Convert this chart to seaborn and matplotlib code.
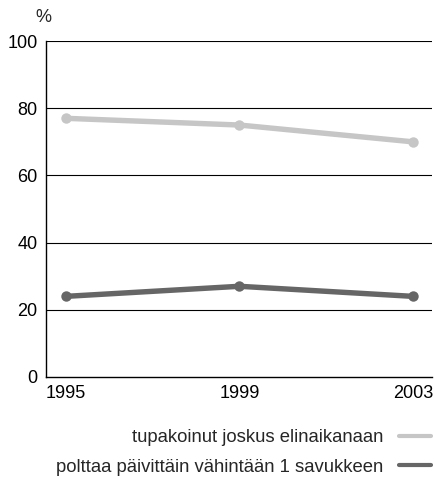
import matplotlib
matplotlib.use("Agg")
import matplotlib.pyplot as plt
import pandas as pd
import seaborn as sns

years = [1995, 1999, 2003]
ever_smoked = [77, 75, 70]
daily_smoker = [24, 27, 24]
series_labels = ["tupakoinut joskus elinaikanaan", "polttaa päivittäin vähintään 1 savukkeen"]
y_ticks = [0, 20, 40, 60, 80, 100]

df = pd.DataFrame({
    "year": years * 2,
    "value": ever_smoked + daily_smoker,
    "series": [series_labels[0]] * 3 + [series_labels[1]] * 3,
})

sns.set_theme(style="white")
plt.rcParams["font.family"] = ["Liberation Sans", "DejaVu Sans"]

fig = plt.figure(figsize=(4.35, 4.83), dpi=100)
ax = fig.add_axes([0.1057, 0.2195, 0.8873, 0.6955])

palette = {series_labels[0]: "#c6c6c6", series_labels[1]: "#666666"}
sns.lineplot(data=df, x="year", y="value", hue="series", palette=palette,
             marker="o", markersize=7.5, markeredgewidth=0, linewidth=3.9,
             legend=False, ax=ax)

ax.set_xlim(1994.54, 2003.44)
ax.set_ylim(0, 100)
ax.set_xticks(years)
ax.set_yticks(y_ticks)
ax.tick_params(axis="y", length=0, labelsize=13, colors="black", pad=6)
ax.tick_params(axis="x", length=0, labelsize=13, colors="black", pad=6)
ax.set_xlabel("")
ax.set_ylabel("")
for y in y_ticks[1:]:
    ax.axhline(y, color="black", linewidth=0.8, zorder=0)
ax.spines["top"].set_visible(False)
ax.spines["right"].set_visible(False)
ax.spines["left"].set_color("black")
ax.spines["bottom"].set_color("black")
ax.spines["left"].set_linewidth(1.0)
ax.spines["bottom"].set_linewidth(1.0)

fig.text(43 / 435, 1 - 17 / 483, "%", fontsize=13, ha="center", va="center")

handles = [plt.Line2D([], [], color=palette[s], linewidth=3.0) for s in series_labels]
fig.legend(handles, series_labels, loc="upper right",
           bbox_to_anchor=(431 / 435, 1 - 429 / 483),
           frameon=False, markerfirst=False, fontsize=13.3, handlelength=1.75,
           handletextpad=0.85, labelspacing=0.68, borderaxespad=0, borderpad=0)

fig.savefig("out.png", dpi=100)
